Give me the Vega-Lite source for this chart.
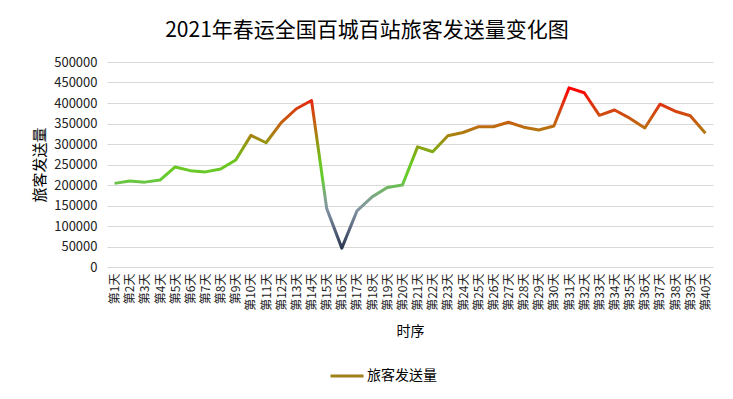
{
  "$schema": "https://vega.github.io/schema/vega-lite/v6.json",
  "width": 606,
  "height": 205,
  "autosize": {"type": "none"},
  "padding": {"left": 107, "top": 62, "right": 20, "bottom": 132},
  "background": "white",
  "title": {
    "text": "2021年春运全国百城百站旅客发送量变化图",
    "font": "Noto Sans CJK SC",
    "fontSize": 21,
    "fontWeight": "normal",
    "color": "#000000",
    "anchor": "middle",
    "dx": -43,
    "offset": 15
  },
  "data": {
    "values": [
      {"day": "第1天", "v": 204000},
      {"day": "第2天", "v": 210000},
      {"day": "第3天", "v": 207000},
      {"day": "第4天", "v": 212000},
      {"day": "第5天", "v": 244000},
      {"day": "第6天", "v": 235000},
      {"day": "第7天", "v": 232000},
      {"day": "第8天", "v": 239000},
      {"day": "第9天", "v": 261000},
      {"day": "第10天", "v": 321000},
      {"day": "第11天", "v": 303000},
      {"day": "第12天", "v": 352000},
      {"day": "第13天", "v": 386000},
      {"day": "第14天", "v": 406000},
      {"day": "第15天", "v": 143000},
      {"day": "第16天", "v": 46000},
      {"day": "第17天", "v": 137000},
      {"day": "第18天", "v": 171000},
      {"day": "第19天", "v": 194000},
      {"day": "第20天", "v": 200000},
      {"day": "第21天", "v": 293000},
      {"day": "第22天", "v": 281000},
      {"day": "第23天", "v": 320000},
      {"day": "第24天", "v": 328000},
      {"day": "第25天", "v": 342000},
      {"day": "第26天", "v": 342000},
      {"day": "第27天", "v": 353000},
      {"day": "第28天", "v": 341000},
      {"day": "第29天", "v": 334000},
      {"day": "第30天", "v": 344000},
      {"day": "第31天", "v": 437000},
      {"day": "第32天", "v": 425000},
      {"day": "第33天", "v": 370000},
      {"day": "第34天", "v": 383000},
      {"day": "第35天", "v": 363000},
      {"day": "第36天", "v": 339000},
      {"day": "第37天", "v": 397000},
      {"day": "第38天", "v": 380000},
      {"day": "第39天", "v": 369000},
      {"day": "第40天", "v": 326000}
    ]
  },
  "encoding": {
    "x": {
      "field": "day",
      "type": "ordinal",
      "sort": null,
      "scale": {"type": "point", "padding": 0.5},
      "axis": {
        "title": "时序",
        "titleFontSize": 14,
        "titleFontWeight": "normal",
        "titleColor": "#000000",
        "titlePadding": 14,
        "labelAngle": -90,
        "labelFontSize": 12,
        "labelColor": "#222222",
        "labelPadding": 6,
        "ticks": false,
        "domain": false,
        "grid": false,
        "labelOverlap": false
      }
    },
    "y": {
      "field": "v",
      "type": "quantitative",
      "scale": {"domain": [0, 500000], "nice": false},
      "axis": {
        "title": "旅客发送量",
        "titleFontSize": 15,
        "titleFontWeight": "normal",
        "titleColor": "#000000",
        "titlePadding": 6,
        "values": [0, 50000, 100000, 150000, 200000, 250000, 300000, 350000, 400000, 450000, 500000],
        "format": "d",
        "labelFontSize": 13,
        "labelColor": "#222222",
        "labelPadding": 10,
        "labelOverlap": false,
        "ticks": false,
        "domain": false,
        "grid": true,
        "gridColor": "#d9d9d9",
        "gridWidth": 1
      }
    }
  },
  "layer": [
    {
      "mark": {
        "type": "line",
        "strokeWidth": 3,
        "strokeJoin": "round",
        "stroke": {
          "gradient": "linear",
          "x1": 0, "y1": 0, "x2": 0, "y2": 1,
          "stops": [
            {"offset": 0, "color": "#ff0000"},
            {"offset": 0.095, "color": "#e03010"},
            {"offset": 0.235, "color": "#c06810"},
            {"offset": 0.35, "color": "#929a10"},
            {"offset": 0.465, "color": "#6cc61e"},
            {"offset": 0.57, "color": "#66cc33"},
            {"offset": 0.62, "color": "#70b860"},
            {"offset": 0.7, "color": "#80a090"},
            {"offset": 0.77, "color": "#8090a4"},
            {"offset": 1, "color": "#2a3850"}
          ]
        }
      }
    },
    {
      "transform": [{"filter": "datum.day == '第1天'"}],
      "mark": {"type": "line", "strokeWidth": 3},
      "encoding": {
        "stroke": {
          "datum": "旅客发送量",
          "scale": {"range": ["#a0801a"]},
          "legend": {
            "title": null,
            "orient": "none",
            "legendX": 222,
            "legendY": 296,
            "direction": "horizontal",
            "symbolType": "stroke",
            "symbolSize": 1089,
            "symbolStrokeWidth": 3,
            "labelFontSize": 14,
            "labelColor": "#000000",
            "labelOffset": 2
          }
        }
      }
    }
  ],
  "config": {
    "font": "Noto Sans CJK SC",
    "view": {"stroke": null}
  }
}
